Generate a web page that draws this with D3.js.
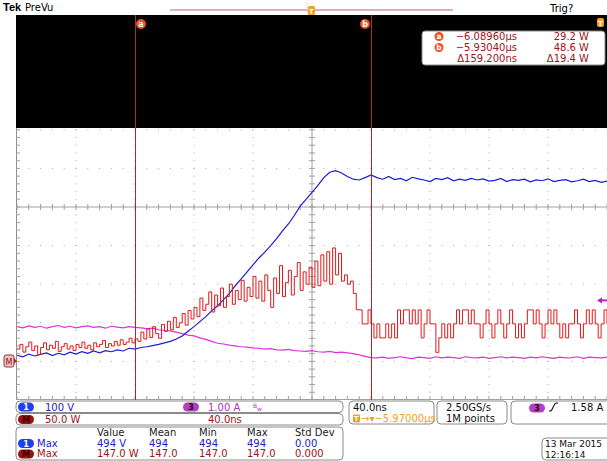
<!DOCTYPE html>
<html><head><meta charset="utf-8">
<script src="https://cdn.jsdelivr.net/npm/d3@7"></script>
<style>html,body{margin:0;padding:0;background:#fff;overflow:hidden}
svg{display:block;font-family:"DejaVu Sans",sans-serif}</style>
</head><body><svg id="c" width="607" height="461"></svg>
<script>
// ---------------- data ----------------
const timeStartNs = -200;          // left edge of record (relative to screen centre)
const blueStepNs = 4;              // Ch1 sample spacing
const redStepNs = 2;               // Math sample spacing
const magentaStepNs = 4;           // Ch3 sample spacing

// Ch1 voltage (V)
const ch1Volts = [16,12,19,14,18,22,15,21,17,24,19,25,21,27,22,28,25,30,27,34,32,
  36,38,41,44,48,52,58,66,78,90,103,116,131,144,160,176,196,214,232,250,
  268,283,300,318,338,356,378,402,420,438,456,476,490,494,488,479,472,470,476,483,
  476,472,479,471,474,468,477,473,470,466,474,471,476,468,472,469,474,470,473,467,
  469,474,466,471,469,472,465,470,468,473,466,469,471,465,468,472,466,469,464,467];

// Math power (W)
const mathWatts = [16,22,12,19,25,14,20,9,18,24,15,21,17,26,13,19,23,16,20,14,22,18,25,17,21,15,24,19,22,27,18,23,20,26,21,28,22,25,30,24,29.2,
  26,38,29,42,31,45,36,30,48,39,52,41,57,44,50,62,47,66,55,70,
  58,82,66,74,90,64,86,72,95,70,84,100,74,92,80,105,78,96,84,110,
  82,104,78,112,92,70,108,88,124,84,102,118,86,110,128,92,116,100,122,96,
  130,98,138,104,142,100,147,112,140,104,
  112,100,104,88,67,66.7,48.6,
  48.6,66.7,48.6,30.5,48.6,30.5,30.5,48.6,30.5,48.6,30.5,66.7,48.6,66.7,66.7,48.6,66.7,48.6,66.7,30.5,
  48.6,66.7,48.6,48.6,11.7,30.5,48.6,30.5,48.6,30.5,48.6,66.7,48.6,66.7,66.7,48.6,66.7,48.6,48.6,30.5,
  48.6,66.7,48.6,30.5,48.6,66.7,48.6,30.5,48.6,66.7,48.6,30.5,48.6,30.5,48.6,66.7,66.7,48.6,66.7,48.6,
  30.5,48.6,66.7,48.6,66.7,48.6,30.5,48.6,30.5,48.6,48.6,66.7,48.6,30.5,48.6,66.7,48.6,66.7,48.6,30.5,
  48.6,66.7,48.6];

// Ch3 current (A)
const ch3Amps = [0.90,0.87,0.92,0.88,0.91,0.86,0.90,0.93,0.88,0.91,0.87,0.90,0.92,0.88,0.90,0.86,0.91,0.89,0.87,0.90,0.88,
  0.87,0.85,0.86,0.82,0.80,0.79,0.76,0.72,0.68,0.66,0.61,0.57,0.52,0.47,0.45,0.42,0.40,0.38,0.37,0.35,
  0.34,0.32,0.33,0.30,0.29,0.31,0.28,0.27,0.26,0.28,0.25,0.24,0.26,0.23,0.24,0.22,0.20,0.17,0.13,0.10,
  0.09,0.11,0.08,0.10,0.12,0.09,0.07,0.11,0.10,0.08,0.12,0.09,0.11,0.10,0.08,0.12,0.10,0.09,0.11,0.08,
  0.10,0.12,0.09,0.11,0.10,0.08,0.11,0.09,0.12,0.10,0.08,0.11,0.09,0.10,0.12,0.08,0.11,0.10,0.09,0.11];

const cursorTimesNs = [-120, 40];
const cursorNames = ["a","b"];
const readoutRows = [["−6.08960µs","29.2 W"],["−5.93040µs","48.6 W"],["Δ159.200ns","Δ19.4 W"]];
const measHeaders = ["Value","Mean","Min","Max","Std Dev"];
const measCh1 = ["494 V","494","494","494","0.00"];
const measMath = ["147.0 W","147.0","147.0","147.0","0.000"];

// ---------------- drawing ----------------
const svg = d3.select("#c");
const BLUE = "#1c1cd2", RED = "#e01818", MAG = "#e030e0", DRED = "#a01414", CUR = "#b02a2a";

const x = d3.scaleLinear().domain([-200,200]).range([17,607]);
const yDiv = d3.scaleLinear().domain([-5,5]).range([400,14]);
const yV = d3.scaleLinear().domain([-100,900]).range([400,14]);
const yW = d3.scaleLinear().domain([-50,450]).range([400,14]);
const yA = d3.scaleLinear().domain([-1,9]).range([400,14]);

const gTop = 128, gBot = 400, gL = 16, gR = 607;

// top bar
svg.append("text").attr("x",3).attr("y",11).attr("font-size",11).attr("font-weight","bold").attr("font-family","Liberation Sans, sans-serif").text("Tek");
svg.append("text").attr("x",25).attr("y",11).attr("font-size",10).text("PreVu");
svg.append("text").attr("x",550).attr("y",12).attr("font-size",10).text("Trig?");
svg.append("line").attr("x1",170).attr("x2",453).attr("y1",10).attr("y2",10).attr("stroke","#b86464");
svg.append("line").attr("x1",307).attr("x2",307).attr("y1",3).attr("y2",12).attr("stroke","#e8c040").attr("stroke-dasharray","1,1");
svg.append("rect").attr("x",308).attr("y",6).attr("width",7).attr("height",9).attr("rx",1.5).attr("fill","#f0a020");
svg.append("text").attr("x",311.5).attr("y",13.5).attr("font-size",7).attr("fill","#fff").attr("text-anchor","middle").attr("font-weight","bold").text("T");
svg.append("path").attr("d","M308.5,15 L314.5,15 L311.5,19 Z").attr("fill","#f0a020");

// graticule backgrounds
svg.append("rect").attr("x",gL).attr("y",gTop).attr("width",gR-gL).attr("height",gBot-gTop).attr("fill","#fff");
const grid = svg.append("g");
const minorX = d3.range(-200,200.01,8);
const minorY = d3.range(-5,5.001,0.2).map(d=>yDiv(d)).filter(v=>v>gTop+1 && v<gBot);
d3.range(-160,161,40).filter(t=>t!==0).forEach(t=>{
  grid.selectAll(null).data(minorY).enter().append("rect")
    .attr("x",x(t)-0.5).attr("y",d=>d-0.5).attr("width",1).attr("height",1).attr("fill","#a8a8a8");
});
d3.range(-4,5,1).filter(d=>d!==0).map(d=>yDiv(d)).filter(v=>v>gTop && v<gBot).forEach(yy=>{
  grid.selectAll(null).data(minorX).enter().append("rect")
    .attr("x",d=>x(d)-0.5).attr("y",yy-0.5).attr("width",1).attr("height",1).attr("fill","#a8a8a8");
});
grid.append("line").attr("x1",x(0)).attr("x2",x(0)).attr("y1",gTop).attr("y2",gBot).attr("stroke","#a0a0a0");
grid.append("line").attr("x1",gL).attr("x2",gR).attr("y1",yDiv(0)).attr("y2",yDiv(0)).attr("stroke","#a0a0a0");
grid.selectAll(null).data(minorY).enter().append("line")
  .attr("x1",x(0)-3).attr("x2",x(0)+3).attr("y1",d=>d).attr("y2",d=>d).attr("stroke","#a0a0a0");
grid.selectAll(null).data(minorX).enter().append("line")
  .attr("x1",d=>x(d)).attr("x2",d=>x(d)).attr("y1",yDiv(0)-3).attr("y2",yDiv(0)+3).attr("stroke","#a0a0a0");
grid.append("line").attr("x1",gL+0.5).attr("x2",gL+0.5).attr("y1",gTop).attr("y2",gBot).attr("stroke","#909090");
grid.selectAll(null).data(minorY).enter().append("line")
  .attr("x1",gL).attr("x2",gL+4).attr("y1",d=>d).attr("y2",d=>d).attr("stroke","#a0a0a0");
grid.append("line").attr("x1",gL).attr("x2",gR).attr("y1",gBot-0.5).attr("y2",gBot-0.5).attr("stroke","#a0a0a0");
grid.selectAll(null).data(minorX).enter().append("line")
  .attr("x1",d=>x(d)).attr("x2",d=>x(d)).attr("y1",gBot-4).attr("y2",gBot).attr("stroke","#a0a0a0");

// traces
svg.append("clipPath").attr("id","clip").append("rect").attr("x",gL).attr("y",gTop).attr("width",gR-gL).attr("height",gBot-gTop-1);
const traces = svg.append("g").attr("clip-path","url(#clip)");
const ch3Pts = ch3Amps.map((v,i)=>({t:timeStartNs+i*magentaStepNs,v}));
const ch1Pts = ch1Volts.map((v,i)=>({t:timeStartNs+i*blueStepNs,v}));
const mathPts = mathWatts.map((v,i)=>({t:timeStartNs+i*redStepNs,v}));
traces.append("path").attr("d",d3.line().x(d=>x(d.t)).y(d=>yA(d.v))(ch3Pts)).attr("fill","none").attr("stroke",MAG).attr("stroke-width",1.2);
traces.append("path").attr("d",d3.line().x(d=>x(d.t)).y(d=>yV(d.v))(ch1Pts)).attr("fill","none").attr("stroke",BLUE).attr("stroke-width",1.2);
traces.append("path").attr("d",d3.line().curve(d3.curveStepAfter).x(d=>x(d.t)).y(d=>yW(d.v))(mathPts)).attr("fill","none").attr("stroke",RED).attr("stroke-width",1);

// black upper region
svg.append("rect").attr("x",gL).attr("y",15).attr("width",gR-gL).attr("height",gTop-15).attr("fill","#000");

// cursors
cursorTimesNs.forEach((t,i)=>{
  svg.append("line").attr("x1",x(t)+0.5).attr("x2",x(t)+0.5).attr("y1",15).attr("y2",gBot).attr("stroke",CUR);
  const cx = i===0 ? x(t)+6 : x(t)-6;
  svg.append("circle").attr("cx",cx).attr("cy",24).attr("r",5).attr("fill","#e8531f");
  svg.append("text").attr("x",cx).attr("y",27).attr("font-size",8).attr("font-weight","bold").attr("fill","#fff").attr("text-anchor","middle").text(cursorNames[i]);
});

// right top T flag
svg.append("rect").attr("x",597).attr("y",18).attr("width",7).attr("height",9).attr("rx",2).attr("fill","#f0a020");
svg.append("text").attr("x",600.5).attr("y",25.5).attr("font-size",7).attr("font-weight","bold").attr("fill","#fff").attr("text-anchor","middle").text("T");

// cursor readout box
svg.append("rect").attr("x",422).attr("y",31).attr("width",183).attr("height",34).attr("rx",3).attr("fill","#fff").attr("stroke","#888");
readoutRows.forEach((r,i)=>{
  const yy = 40 + i*11;
  if(i<2){
    svg.append("circle").attr("cx",439).attr("cy",yy-3.5).attr("r",4.5).attr("fill","#e8531f");
    svg.append("text").attr("x",439).attr("y",yy-0.8).attr("font-size",7.5).attr("font-weight","bold").attr("fill","#fff").attr("text-anchor","middle").text(cursorNames[i]);
  }
  svg.append("text").attr("x",517).attr("y",yy).attr("font-size",10).attr("fill",DRED).attr("text-anchor","end").text(r[0]);
  svg.append("text").attr("x",589).attr("y",yy).attr("font-size",10).attr("fill",DRED).attr("text-anchor","end").text(r[1]);
});

// ground marker & trigger level arrow
svg.append("rect").attr("x",4).attr("y",355).attr("width",10).attr("height",12).attr("rx",2).attr("fill","#f2c4c4").attr("stroke","#a03030");
svg.append("text").attr("x",9).attr("y",364.5).attr("font-size",8).attr("fill","#8a1010").attr("text-anchor","middle").text("M");
svg.append("path").attr("d","M14,358 L17,361 L14,364 Z").attr("fill","#a03030");
svg.append("path").attr("d","M597,"+yA(1.58)+" L602,"+(yA(1.58)-3)+" L602,"+(yA(1.58)+3)+" Z").attr("fill","#c020c0");
svg.append("line").attr("x1",600).attr("x2",607).attr("y1",yA(1.58)).attr("y2",yA(1.58)).attr("stroke","#c020c0").attr("stroke-width",2);

// ---------------- bottom panel ----------------
function box(x0,y0,w,h){svg.append("rect").attr("x",x0).attr("y",y0).attr("width",w).attr("height",h).attr("rx",4).attr("fill","#fff").attr("stroke","#8a8a8a");}
function pill(x0,y0,label,fill,tc){
  svg.append("rect").attr("x",x0).attr("y",y0).attr("width",16).attr("height",9).attr("rx",4.5).attr("fill",fill);
  svg.append("text").attr("x",x0+8).attr("y",y0+7.5).attr("font-size",8).attr("font-weight","bold").attr("fill",tc).attr("text-anchor","middle").text(label);
}
function txt(x0,y0,s,c,anchor,fs){svg.append("text").attr("x",x0).attr("y",y0).attr("font-size",fs||10).attr("fill",c).attr("text-anchor",anchor||"start").text(s);}
box(16,401,327,11.5);
pill(18,402.5,"1","#1f3ff0","#fff"); txt(45,410.5,"100 V",BLUE);
pill(183,402.5,"3","#b040c8","#300"); txt(208,410.5,"1.00 A","#b030c0");
svg.append("text").attr("x",253).attr("y",408).attr("font-size",6).attr("fill","#b030c0").text("B");
svg.append("text").attr("x",257).attr("y",411).attr("font-size",6).attr("fill","#b030c0").text("w");
box(16,413.5,327,11.5);
pill(18,415,"M","#a01010","#300"); txt(45,423,"50.0 W",DRED); txt(208,423,"40.0ns",DRED);
box(16,427,327,33);
const colX = [97,149,199,247,295];
measHeaders.forEach((h,i)=>txt(colX[i],436,h,"#222"));
pill(18,439,"1","#1f3ff0","#fff"); txt(37,446.5,"Max",BLUE);
measCh1.forEach((v,i)=>txt(colX[i],446.5,v,BLUE));
pill(18,449.5,"M","#a01010","#300"); txt(37,457,"Max",DRED);
measMath.forEach((v,i)=>txt(colX[i],457,v,DRED));

box(349,401,85,23);
txt(353,411,"40.0ns","#111");
svg.append("rect").attr("x",353).attr("y",414.5).attr("width",7).attr("height",8).attr("rx",1.5).attr("fill","#f0a020");
svg.append("text").attr("x",356.5).attr("y",421).attr("font-size",7).attr("font-weight","bold").attr("fill","#fff").attr("text-anchor","middle").text("T");
svg.append("text").attr("x",361).attr("y",422).attr("font-size",10).attr("fill","#f0a020").text("→▾−5.97000µs");
box(437,401,70,23);
txt(446,411,"2.50GS/s","#111"); txt(446,422,"1M points","#111");
box(511,401,100,23);
pill(529,403.5,"3","#b040c8","#300");
svg.append("path").attr("d","M550,411 C553,411 553,404 556,403 M550,411 L549,411 M556,403 L558,403").attr("fill","none").attr("stroke","#111").attr("stroke-width",1.1);
txt(571,411,"1.58 A","#111");
box(542,438,70,22);
txt(545,447,"13 Mar 2015","#111","start",9); txt(545,457.5,"12:16:14","#111","start",9);
</script></body></html>
